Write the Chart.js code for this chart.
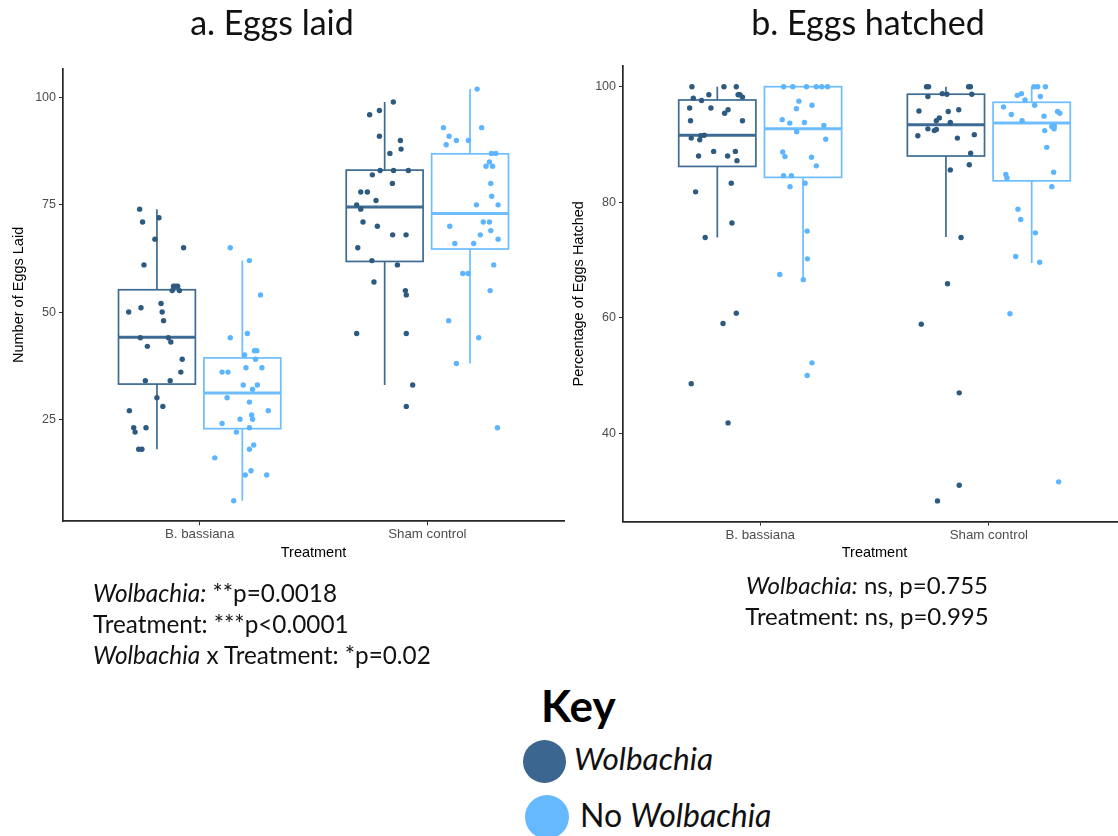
<!DOCTYPE html>
<html>
<head>
<meta charset="utf-8">
<script src="https://cdn.jsdelivr.net/npm/chart.js@4.4.1/dist/chart.umd.min.js"></script>
<style>
  html, body { margin:0; padding:0; width:1118px; height:836px; overflow:hidden; background:#fff; }
  canvas { position:absolute; }
  .t { position:absolute; font-family: Lato, "Open Sans", sans-serif; color:#111; white-space:nowrap; }
  .c { text-align:center; }
  .dot { position:absolute; border-radius:50%; }
</style>
</head>
<body>
<canvas id="chartA" width="570" height="580" style="left:0;top:0;width:570px;height:580px"></canvas>
<canvas id="chartB" width="580" height="580" style="left:560px;top:0;width:580px;height:580px"></canvas>

<div class="t c" style="left:72px;top:1px;width:400px;font-size:34px;line-height:41px;">a. Eggs laid</div>
<div class="t c" style="left:668px;top:1px;width:400px;font-size:34px;line-height:41px;">b. Eggs hatched</div>

<div class="t" style="left:93px;top:577px;font-size:24.3px;line-height:31px;">
  <i>Wolbachia:</i> **p=0.0018<br>Treatment: ***p&lt;0.0001<br><i>Wolbachia</i> x Treatment: *p=0.02
</div>
<div class="t c" style="left:667px;top:569px;width:400px;font-size:24px;line-height:31px;">
  <i>Wolbachia:</i> ns, p=0.755<br>Treatment: ns, p=0.995
</div>

<div class="t" style="left:541px;top:679px;font-size:44px;line-height:53px;font-weight:bold;color:#000;">Key</div>
<div class="dot" style="left:523px;top:740px;width:43px;height:43px;background:#3A668F;"></div>
<div class="t" style="left:574px;top:739px;font-size:31.5px;line-height:38px;"><i>Wolbachia</i></div>
<div class="dot" style="left:525px;top:795px;width:44px;height:44px;background:#66B9FF;"></div>
<div class="t" style="left:580px;top:796px;font-size:32px;line-height:38px;">No <i>Wolbachia</i></div>

<script>
// ---------- data ----------
const categories = ['B. bassiana', 'Sham control'];
const groupNames = ['Wolbachia', 'No Wolbachia'];

// Box stats per category: [lower whisker, Q1, median, Q3, upper whisker]
const laidBoxWol   = [[18, 33.2, 44.1, 55.2, 74], [33, 61.8, 74.5, 83.1, 99]];
const laidBoxNoWol = [[6, 22.8, 31.1, 39.3, 62], [38, 64.7, 73.0, 86.9, 102]];
const hatchBoxWol   = [[73.9, 86.2, 91.6, 97.7, 100], [74.0, 88.0, 93.4, 98.7, 100]];
const hatchBoxNoWol = [[66.6, 84.3, 92.7, 100, 100], [69.5, 83.7, 93.7, 97.3, 100]];

// Eggs laid – individual values and their horizontal jitter (category units)
const laidWolBass = [74,71,72,67,65,61,56,56,56,55,55,52,51,50,50,48,44,44,43,42,39,36,34,34,30,28,27,23,23,22,18,18];
const laidWolBassJit = [-0.076,-0.063,0.009,-0.009,0.117,-0.057,0.073,0.082,0.091,0.067,0.099,0.018,-0.070,-0.124,0.023,0.029,-0.073,0.050,0.061,-0.042,0.111,0.105,-0.051,0.058,0,0.026,-0.121,-0.102,-0.048,-0.096,-0.080,-0.066];
const laidNoWolBass = [65,62,54,44,45,40,41,41,39,36,36,37,37,33,33,32,30,29,27,26,25,25,24,23,22,19,18,16,13,12,12,6];
const laidNoWolBassJit = [-0.053,0.031,0.080,-0.053,0.022,0.010,0.053,0.064,0.058,-0.089,-0.063,0.016,0.086,0.004,0.066,0.045,-0.067,0.031,0.114,0.041,0.045,-0.010,-0.089,0.031,-0.026,0.050,0.031,-0.121,0.038,0.013,0.107,-0.038];
const laidWolSham = [99,96,97,91,90,88,87,83,83,83,82,80,78,78,76,75,74,71,70,68,68,65,62,61,57,55,54,45,45,33,28];
const laidWolShamJit = [0.038,-0.066,-0.023,-0.023,0.069,0.072,0.023,-0.020,0.039,0.104,-0.054,0.034,-0.105,-0.076,-0.038,-0.123,-0.105,-0.095,-0.032,0.035,0.094,-0.118,-0.056,0.056,-0.047,0.091,0.095,-0.123,0.095,0.123,0.095];
const laidNoWolSham = [102,93,93,91,90,90,89,87,87,85,84,84,80,77,75,75,70,71,71,69,68,67,66,66,61,59,59,55,48,44,38,23];
const laidNoWolShamJit = [0.031,-0.117,0.051,-0.092,-0.060,-0.007,-0.105,0.094,0.113,0.085,0.070,0.099,0.091,0.095,0.028,0.123,-0.089,0.058,0.085,0.091,0.045,0.123,-0.067,0.016,0.104,-0.032,-0.009,0.088,-0.094,0.038,-0.060,0.120];

// Eggs hatched (%) – individual values and jitter
const hatchWolBass = [100,100,100,98.0,98.6,97.6,98.6,98.6,98.2,96.3,96.3,96.0,95.4,94.1,94.1,91.6,91.5,91.1,90.8,88.8,88.8,88.0,88.0,87.2,83.3,81.8,76.4,73.9,60.8,59.0,48.6,41.8];
const hatchWolBassJit = [-0.111,0.029,0.083,-0.105,-0.037,-0.069,0.091,0.099,0.110,-0.121,-0.028,0.047,0.032,-0.117,0.110,-0.057,-0.072,-0.114,-0.077,-0.016,0.079,-0.082,0.045,0.086,0.061,-0.095,0.064,-0.053,0.083,0.025,-0.114,0.047];
const hatchNoWolBass = [100,100,100,100,100,100,97.5,96.2,96.8,94.3,93.7,93.8,93.3,92.2,90.9,88.7,87.9,87.8,86.3,84.6,84.6,83.3,82.7,75.0,70.2,67.5,66.6,52.2,50.0];
const hatchNoWolBassJit = [-0.085,-0.045,0.015,0.058,0.082,0.107,-0.018,-0.029,0.039,-0.091,-0.058,0.006,0.091,-0.028,0.099,-0.089,-0.079,0.037,0.058,-0.085,-0.051,0.009,-0.057,0.018,0.019,-0.102,0.001,0.039,0.018];
const hatchWolSham = [100,100,100,100,98.3,98.8,98.7,98.7,95.8,95.7,96.0,94.6,94.1,93.8,92.7,92.4,92.6,91.5,91.7,91.1,88.5,86.5,85.6,73.9,65.9,58.9,47.0,31.0,28.3];
const hatchWolShamJit = [-0.085,-0.076,0.099,0.107,-0.079,-0.016,0.004,0.113,-0.118,0.010,0.056,-0.029,-0.042,0.019,-0.079,-0.051,-0.042,-0.123,0.124,0.050,0.108,0.102,0.019,0.066,0.007,-0.108,0.058,0.058,-0.037];
const hatchNoWolSham = [100,100,100,98.5,98.8,97.7,98.3,96.8,96.5,95.2,94.9,95.7,95.4,94.1,93.1,93.2,92.7,92.4,89.5,84.8,84.2,85.2,82.7,78.8,77.0,74.7,70.6,69.6,60.7,31.6];
const hatchNoWolShamJit = [0.010,0.026,0.060,-0.063,-0.045,-0.029,0.038,0.013,-0.123,-0.089,0.054,0.113,0.123,-0.042,0.088,0.099,0.098,0.057,0.066,-0.113,-0.108,0.096,0.088,-0.060,-0.048,0.016,-0.070,0.035,-0.095,0.118];

const laidTicks = [25, 50, 75, 100];
const hatchTicks = [40, 60, 80, 100];

// ---------- styling ----------
const DARK_PT = '#2E5A80', LIGHT_PT = '#5DB5FF';
const DARK_LN = '#3D6B93', LIGHT_LN = '#6DBDFF';
const DODGE = 0.1875, BOX_HALF = 0.16875;
const XTICK_FONT = { family: '"Liberation Sans", Arial, sans-serif', size: 13.3 };
const YTICK_FONT = { family: '"Liberation Sans", Arial, sans-serif', size: 12.5 };
const TITLE_FONT = { family: '"Liberation Sans", Arial, sans-serif', size: 14.5 };

function pts(center, vals, jit) {
  return vals.map((v, i) => ({ x: center + jit[i], y: v }));
}

const boxPlugin = {
  id: 'boxes',
  beforeDatasetsDraw(chart, args, opts) {
    const { ctx, scales: { x, y } } = chart;
    ctx.save();
    opts.boxes.forEach(b => {
      const [lo, q1, med, q3, hi] = b.stats;
      const xl = x.getPixelForValue(b.x - BOX_HALF), xr = x.getPixelForValue(b.x + BOX_HALF);
      const xc = x.getPixelForValue(b.x);
      ctx.strokeStyle = b.color;
      ctx.lineWidth = 1.7;
      ctx.beginPath();
      ctx.moveTo(xc, y.getPixelForValue(hi)); ctx.lineTo(xc, y.getPixelForValue(q3));
      ctx.moveTo(xc, y.getPixelForValue(q1)); ctx.lineTo(xc, y.getPixelForValue(lo));
      ctx.stroke();
      ctx.strokeRect(xl, y.getPixelForValue(q3), xr - xl, y.getPixelForValue(q1) - y.getPixelForValue(q3));
      ctx.lineWidth = 3;
      ctx.beginPath();
      ctx.moveTo(xl, y.getPixelForValue(med)); ctx.lineTo(xr, y.getPixelForValue(med));
      ctx.stroke();
    });
    ctx.restore();
  }
};

function makeChart(id, cfg) {
  return new Chart(document.getElementById(id), {
    type: 'scatter',
    data: {
      datasets: [
        { label: groupNames[0] + ' ' + categories[0], data: pts(1 - DODGE, cfg.p[0], cfg.j[0]), backgroundColor: DARK_PT },
        { label: groupNames[1] + ' ' + categories[0], data: pts(1 + DODGE, cfg.p[1], cfg.j[1]), backgroundColor: LIGHT_PT },
        { label: groupNames[0] + ' ' + categories[1], data: pts(2 - DODGE, cfg.p[2], cfg.j[2]), backgroundColor: DARK_PT },
        { label: groupNames[1] + ' ' + categories[1], data: pts(2 + DODGE, cfg.p[3], cfg.j[3]), backgroundColor: LIGHT_PT }
      ].map(d => Object.assign(d, { pointRadius: 2.7, pointBorderWidth: 0, pointHoverRadius: 2.7 }))
    },
    plugins: [boxPlugin],
    options: {
      responsive: false, animation: false, events: [],
      layout: { padding: cfg.pad },
      plugins: {
        legend: { display: false }, tooltip: { enabled: false },
        boxes: { boxes: [
          { x: 1 - DODGE, stats: cfg.box[0][0], color: DARK_LN },
          { x: 1 + DODGE, stats: cfg.box[1][0], color: LIGHT_LN },
          { x: 2 - DODGE, stats: cfg.box[0][1], color: DARK_LN },
          { x: 2 + DODGE, stats: cfg.box[1][1], color: LIGHT_LN }
        ] }
      },
      scales: {
        x: {
          type: 'linear', min: 0.4, max: 2.6,
          afterBuildTicks: s => { s.ticks = categories.map((c, i) => ({ value: i + 1 })); },
          afterFit: s => { s.height = 50; },
          ticks: { callback: v => categories[Math.round(v) - 1], font: XTICK_FONT, color: '#4D4D4D', padding: 1.5, autoSkip: false, maxRotation: 0 },
          grid: { drawOnChartArea: false, drawTicks: true, tickLength: 4, color: '#333', lineWidth: 1 },
          border: { display: true, color: '#262626', width: 1.7 },
          title: { display: true, text: 'Treatment', font: TITLE_FONT, color: '#000', padding: { top: 0, bottom: 10 } }
        },
        y: {
          type: 'linear', min: cfg.ymin, max: cfg.ymax,
          afterBuildTicks: s => { s.ticks = cfg.ticks.map(v => ({ value: v })); },
          afterFit: s => { s.width = 63; },
          ticks: { font: YTICK_FONT, color: '#4D4D4D', padding: 3 },
          grid: { drawOnChartArea: false, drawTicks: true, tickLength: 4, color: '#333', lineWidth: 1 },
          border: { display: true, color: '#262626', width: 1.7 },
          title: { display: true, text: cfg.ytitle, font: TITLE_FONT, color: '#000', padding: { top: 10, bottom: 0 } }
        }
      }
    }
  });
}

makeChart('chartA', {
  p: [laidWolBass, laidNoWolBass, laidWolSham, laidNoWolSham],
  j: [laidWolBassJit, laidNoWolBassJit, laidWolShamJit, laidNoWolShamJit],
  box: [laidBoxWol, laidBoxNoWol],
  ymin: 1.2, ymax: 106.8, ticks: laidTicks,
  ytitle: 'Number of Eggs Laid',
  pad: { left: 0, top: 68.5, right: 6, bottom: 8.7 }
});
makeChart('chartB', {
  p: [hatchWolBass, hatchNoWolBass, hatchWolSham, hatchNoWolSham],
  j: [hatchWolBassJit, hatchNoWolBassJit, hatchWolShamJit, hatchNoWolShamJit],
  box: [hatchBoxWol, hatchBoxNoWol],
  ymin: 24.7, ymax: 103.6, ticks: hatchTicks,
  ytitle: 'Percentage of Eggs Hatched',
  pad: { left: 0, top: 65.9, right: 14, bottom: 8.3 }
});
</script>
</body>
</html>
